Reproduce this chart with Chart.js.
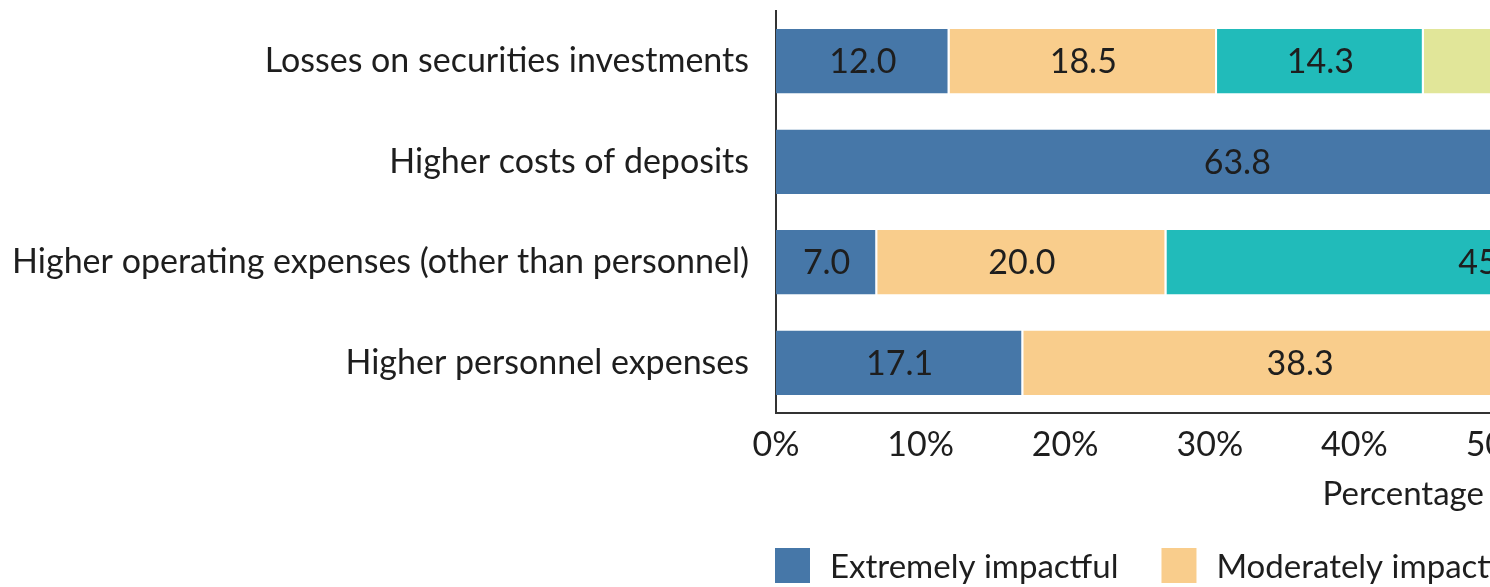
<!DOCTYPE html>
<html>
<head>
<meta charset="utf-8">
<script src="https://cdn.jsdelivr.net/npm/chart.js@4.4.0/dist/chart.umd.min.js"></script>
<style>
  html, body { margin: 0; padding: 0; background: #fff; overflow: hidden; }
  #wrap { width: 2262px; height: 587px; }
</style>
</head>
<body>
<div id="wrap"><canvas id="chart" width="2262" height="587"></canvas></div>
<script>
// categories (top to bottom)
const categories = [
  'Losses on securities investments',
  'Higher costs of deposits',
  'Higher operating expenses (other than personnel)',
  'Higher personnel expenses'
]
// series, values in percent (parts right of the crop are estimates)
const seriesNames = ['Extremely impactful', 'Moderately impactful', 'Slightly impactful', 'Not impactful']
const extremely  = [12.0, 63.8, 7.0, 17.1]
const moderately = [18.5, 27.7, 20.0, 38.3]
const slightly   = [14.3, 6.4, 45.0, 33.6]
const notAtAll   = [55.2, 2.1, 28.0, 11.0]
const xTicks = [0, 10, 20, 30, 40, 50, 60, 70, 80, 90, 100]

const colors = ['#4677a8', '#f9cd8c', '#21bbba', '#e1e699']
const FONT = 'Lato, "Open Sans", sans-serif'
const INK = '#1e1e1e'

// value labels centred in each segment
const segLabels = {
  id: 'segLabels',
  afterDatasetsDraw(chart) {
    const ctx = chart.ctx
    ctx.save()
    ctx.font = '34px ' + FONT
    ctx.fillStyle = INK
    ctx.textAlign = 'center'
    ctx.textBaseline = 'middle'
    chart.data.datasets.forEach((ds, i) => {
      chart.getDatasetMeta(i).data.forEach((bar, j) => {
        const v = ds.data[j]
        if (v < 4) return
        const p = bar.getCenterPoint()
        ctx.fillText(v.toFixed(1), p.x, p.y + 1)
      })
    })
    ctx.restore()
  }
}

// legend drawn under the axis, starting at the plot's left edge
const bottomLegend = {
  id: 'bottomLegend',
  afterDraw(chart) {
    const ctx = chart.ctx
    const yc = 566
    let x = chart.chartArea.left - 1
    ctx.save()
    ctx.font = '33px ' + FONT
    ctx.textBaseline = 'middle'
    chart.data.datasets.forEach(ds => {
      ctx.fillStyle = ds.backgroundColor
      ctx.fillRect(x, yc - 18, 35, 35)
      ctx.fillStyle = INK
      ctx.fillText(ds.label, x + 55, yc + 1)
      x += 55 + ctx.measureText(ds.label).width + 43
    })
    ctx.restore()
  }
}

const seriesData = [extremely, moderately, slightly, notAtAll]

new Chart(document.getElementById('chart'), {
  type: 'bar',
  data: {
    labels: categories,
    datasets: seriesNames.map((name, i) => ({
      label: name,
      data: seriesData[i],
      backgroundColor: colors[i],
      borderColor: '#ffffff',
      borderWidth: { left: 0, right: 2, top: 0, bottom: 0 },
      borderSkipped: false,
      barPercentage: 0.64,
      categoryPercentage: 1
    }))
  },
  options: {
    indexAxis: 'y',
    responsive: false,
    animation: false,
    layout: { padding: { top: 11, bottom: 73, left: 0, right: 40 } },
    plugins: {
      legend: { display: false },
      tooltip: { enabled: false }
    },
    scales: {
      x: {
        stacked: true,
        min: 0,
        max: 100,
        afterBuildTicks: s => { s.ticks = xTicks.map(v => ({ value: v })) },
        afterFit: s => {
          s.height = 101
          s.paddingLeft = 0
          s.paddingRight = 0
        },
        grid: { display: false, drawTicks: false },
        border: { display: true, color: '#333', width: 2 },
        ticks: {
          padding: 12,
          color: INK,
          font: { family: FONT, size: 34 },
          callback: v => v + '%'
        },
        title: {
          display: true,
          text: 'Percentage of responses',
          color: INK,
          font: { family: FONT, size: 33 },
          padding: { top: 10, bottom: 0 }
        }
      },
      y: {
        stacked: true,
        afterFit: s => {
          s.width = 776
          s.paddingTop = 0
          s.paddingBottom = 0
        },
        grid: { display: false, drawTicks: false },
        border: { display: true, color: '#333', width: 2 },
        ticks: {
          padding: 27,
          color: INK,
          font: { family: FONT, size: 34 }
        }
      }
    }
  },
  plugins: [segLabels, bottomLegend]
})
</script>
</body>
</html>
